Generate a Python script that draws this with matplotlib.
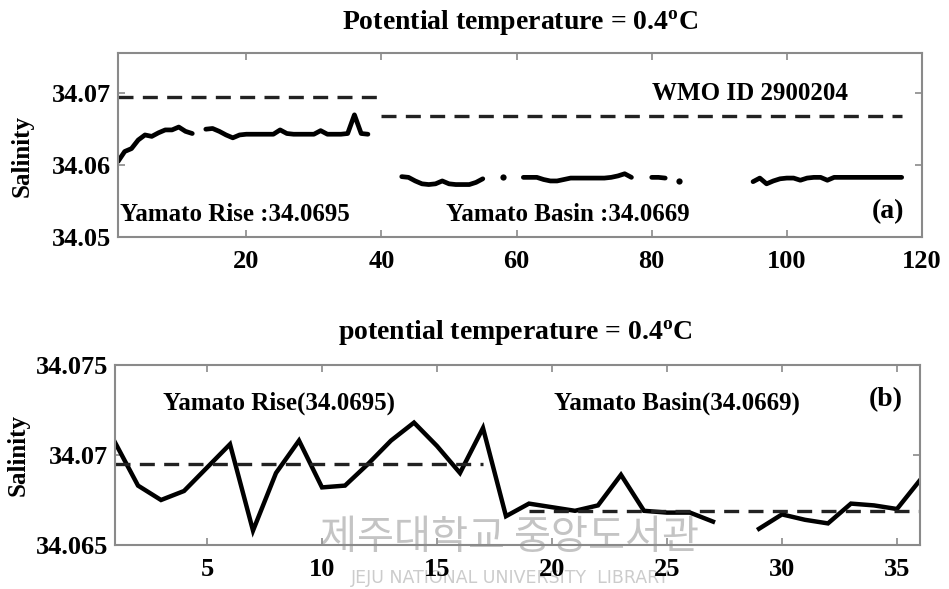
import numpy as np
import matplotlib
matplotlib.use("Agg")
import matplotlib.pyplot as plt

plt.rcParams['font.family'] = ['Liberation Serif', 'DejaVu Serif']
plt.rcParams['font.weight'] = 'bold'
plt.rcParams['mathtext.fontset'] = 'custom'
plt.rcParams['mathtext.rm'] = 'Liberation Serif:bold'
plt.rcParams['mathtext.it'] = 'Liberation Serif:bold'

# (a) float profile, salinity on the 0.4 degC surface
idx_a = np.arange(1, 118)
nan = np.nan
sal_a = [34.0605, 34.0619, 34.0623, 34.0635, 34.0642, 34.0640, 34.0645, 34.0649, 34.0649, 34.0653,
         34.0647, 34.0644, nan, 34.0650, 34.0651, 34.0647, 34.0642, 34.0638, 34.0642, 34.0643,
         34.0643, 34.0643, 34.0643, 34.0643, 34.0649, 34.0644, 34.0643, 34.0643, 34.0643, 34.0643,
         34.0648, 34.0643, 34.0643, 34.0643, 34.0644, 34.0670, 34.0644, 34.0643, nan, nan,
         nan, nan, 34.0584, 34.0583, 34.0578, 34.0574, 34.0573, 34.0574, 34.0578, 34.0574,
         34.0573, 34.0573, 34.0573, 34.0576, 34.0581, nan, nan, 34.0584, nan, nan,
         34.0583, 34.0583, 34.0583, 34.0580, 34.0578, 34.0578, 34.0580, 34.0582, 34.0582, 34.0582,
         34.0582, 34.0582, 34.0582, 34.0583, 34.0585, 34.0588, 34.0583, nan, nan, 34.0583,
         34.0583, 34.0582, nan, 34.0578, nan, nan, nan, nan, nan, nan,
         nan, nan, nan, nan, 34.0577, 34.0582, 34.0574, 34.0578, 34.0581, 34.0582,
         34.0582, 34.0579, 34.0582, 34.0583, 34.0583, 34.0579, 34.0583, 34.0583, 34.0583, 34.0583,
         34.0583, 34.0583, 34.0583, 34.0583, 34.0583, 34.0583, 34.0583]

# (b) station data
idx_b = np.arange(1, 37)
sal_b = [34.0707, 34.0683, 34.0675, 34.0680, 34.0693, 34.0706, 34.0658, 34.0690, 34.0708, 34.0682,
         34.0683, 34.0695, 34.0708, 34.0718, 34.0705, 34.0690, 34.0715, 34.0666, 34.0673, 34.0671,
         34.0669, 34.0672, 34.0689, 34.0669, 34.0668, 34.0668, 34.0663, nan, 34.0659, 34.0667,
         34.0664, 34.0662, 34.0673, 34.0672, 34.0670, 34.0686]

rise_mean = 34.0695
basin_mean = 34.0669
rise_a = [1, 40]
basin_a = [40, 117]
rise_b = [1, 17]
basin_b = [19, 36]

fig = plt.figure(figsize=(9.49, 5.89), dpi=100)
ax1 = fig.add_axes([0.1243, 0.5976, 0.8472, 0.3124])
ax2 = fig.add_axes([0.1212, 0.0747, 0.8482, 0.3056])

fs = 19
for ax in (ax1, ax2):
    ax.set_facecolor('none')
    for s in ax.spines.values():
        s.set_color('#8a8a8a')
        s.set_linewidth(1.5)
    ax.tick_params(direction='in', length=5, width=1.2, color='#8a8a8a',
                   top=True, right=True, labelsize=fs)
    ax.tick_params(axis='y', pad=5)
    ax.tick_params(axis='x', pad=9)
    ax.set_ylabel('Salinity', fontsize=18, fontweight='bold')
ax1.yaxis.set_label_coords(-0.105, 0.44)
ax2.yaxis.set_label_coords(-0.106, 0.5)

# panel (a); single readings between gaps get a dot
sa = np.array(sal_a)
ok = ~np.isnan(sa)
prev_ok = np.r_[False, ok[:-1]]
next_ok = np.r_[ok[1:], False]
lone = ok & ~prev_ok & ~next_ok
ax1.plot(idx_a, sal_a, '-', color='black', lw=3.4,
         solid_joinstyle='round', solid_capstyle='round')
ax1.plot(idx_a[lone], sa[lone], 'o', color='black', ms=4.5, mew=0)
ax1.plot(rise_a, [rise_mean, rise_mean], color='#222222', lw=2.4, dashes=(4.5, 2.8))
ax1.plot(basin_a, [basin_mean, basin_mean], color='#222222', lw=2.4, dashes=(4.5, 2.8))
ax1.set_xlim(1, 120)
ax1.set_ylim(34.05, 34.0756)
ax1.set_xticks([20, 40, 60, 80, 100, 120])
ax1.set_yticks([34.05, 34.06, 34.07])
ax1.set_yticklabels(['34.05', '34.06', '34.07'])
ax1.text(1.3, 34.0531, 'Yamato Rise :34.0695', fontsize=18, va='center', ha='left')
ax1.text(49.6, 34.0531, 'Yamato Basin :34.0669', fontsize=18, va='center', ha='left')
ax1.text(94.5, 34.0700, 'WMO ID 2900204', fontsize=18, va='center', ha='center')
ax1.text(115, 34.0536, '(a)', fontsize=20, va='center', ha='center')
fig.text(0.548, 0.962, 'Potential temperature = 0.4$^{\\rm o}$C', fontsize=20,
         ha='center', va='center', fontweight='bold')

# panel (b)
ax2.plot(idx_b, sal_b, '-', color='black', lw=3.2, solid_joinstyle='miter')
ax2.plot(rise_b, [rise_mean, rise_mean], color='#222222', lw=2.4, dashes=(4.5, 2.8))
ax2.plot(basin_b, [basin_mean, basin_mean], color='#222222', lw=2.4, dashes=(4.5, 2.8))
ax2.set_xlim(1, 36)
ax2.set_ylim(34.065, 34.075)
ax2.set_xticks([5, 10, 15, 20, 25, 30, 35])
ax2.set_yticks([34.065, 34.07, 34.075])
ax2.set_yticklabels(['34.065', '34.07', '34.075'])
ax2.text(3.1, 34.0729, 'Yamato Rise(34.0695)', fontsize=18, va='center', ha='left')
ax2.text(20.1, 34.0729, 'Yamato Basin(34.0669)', fontsize=18, va='center', ha='left')
ax2.text(34.5, 34.0731, '(b)', fontsize=20, va='center', ha='center')
fig.text(0.543, 0.435, 'potential temperature = 0.4$^{\\rm o}$C', fontsize=20,
         ha='center', va='center', fontweight='bold')

# library stamp
fig.text(0.537, 0.088, '제주대학교 중앙도서관', fontsize=29, color='#c4c4c4',
         family=['Noto Sans CJK KR', 'DejaVu Sans'], fontweight='normal',
         ha='center', va='center', zorder=-1)
fig.text(0.538, 0.018, 'JEJU NATIONAL UNIVERSITY  LIBRARY', fontsize=12.5, color='#cccccc',
         family=['DejaVu Sans'], fontweight='normal', ha='center', va='center', zorder=-1)

fig.savefig('out.png', dpi=100)
